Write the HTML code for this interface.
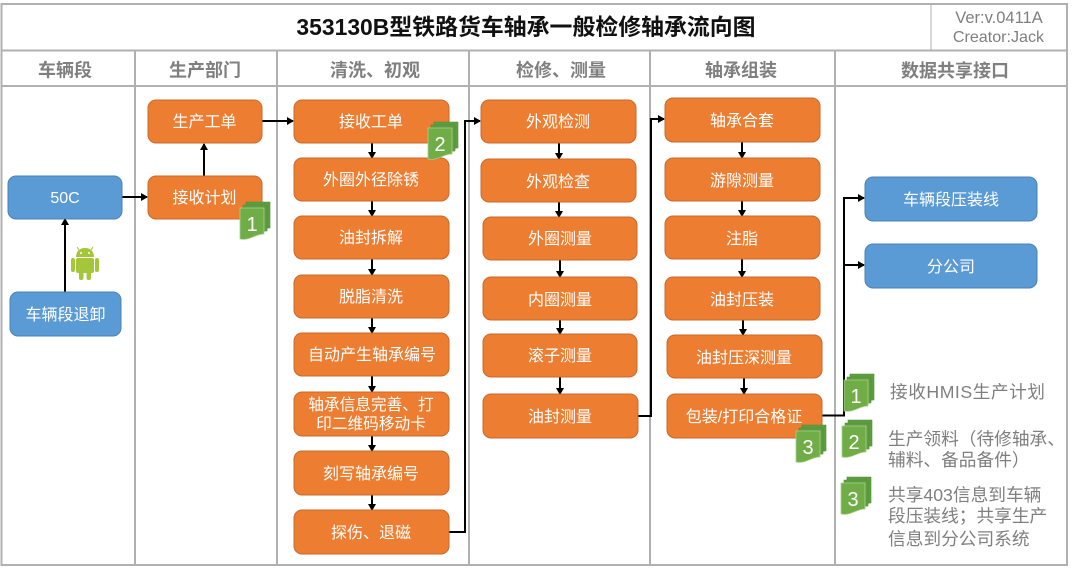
<!DOCTYPE html>
<html lang="zh"><head><meta charset="utf-8"><title>353130B型铁路货车轴承一般检修轴承流向图</title>
<style>
html,body{margin:0;padding:0;background:#fff;width:1080px;height:568px;overflow:hidden}
svg{display:block}
text{font-family:"Liberation Sans","Noto Sans CJK SC",sans-serif}
.h{font-size:18px;font-weight:700;fill:#7f7f7f;text-anchor:middle}
.b{font-size:16px;fill:#fff;text-anchor:middle;dominant-baseline:central;transform:translateY(1.5px)}
.o{fill:#ed7d31;stroke:#c9692c;stroke-width:1}
.u{fill:#5b9bd5;stroke:#4a82b5;stroke-width:1}
.l{fill:none;stroke:#000;stroke-width:2}
.g{font-size:17.7px;fill:#7f7f7f}
.n{font-size:20px;fill:#fff;text-anchor:middle}
.d1{fill:#5f9e40;stroke:#4f8a35;stroke-width:.6}
.d2{fill:#70ad47;stroke:#a9d18e;stroke-width:.8}
</style></head><body>
<svg width="1080" height="568" viewBox="0 0 1080 568" xmlns="http://www.w3.org/2000/svg">
<defs>
<path id="p" d="M0 0H24V26C15 26 10 33 0 31Z"/>
<marker id="a" markerWidth="7" markerHeight="8" refX="6" refY="4" orient="auto" markerUnits="userSpaceOnUse"><path d="M0 0L7 4L0 8Z" fill="#000"/></marker>
<g id="doc">
<use href="#p" x="6" y="-6" class="d1"/><use href="#p" x="3" y="-3" class="d1"/><use href="#p" x="0" y="0" class="d2" style="fill:#70ad47"/>
</g>
</defs>
<g fill="none" stroke="#b0b0b0" stroke-width="2">
<rect x="1.500" y="4" width="1065.500" height="561"/>
<path d="M1 50.500H1067M1 86H1067M135 50V565M277 50V565M469 50V565M650 50V565M835 50V565"/>
<path d="M931 4V50" stroke-width="1"/>
</g>
<text x="526" y="35" text-anchor="middle" font-size="22.900" font-weight="700" fill="#111">353130B型铁路货车轴承一般检修轴承流向图</text>
<text x="999" y="23" text-anchor="middle" font-size="16.500" fill="#7f7f7f">Ver:v.0411A</text>
<text x="998.500" y="42" text-anchor="middle" font-size="16.100" fill="#7f7f7f">Creator:Jack</text>
<text class="h" x="65" y="76.500">车辆段</text><text class="h" x="205" y="76.500">生产部门</text><text class="h" x="375" y="76.500">清洗、初观</text><text class="h" x="561" y="76.500">检修、测量</text><text class="h" x="741" y="76.500">轴承组装</text><text class="h" x="955" y="77">数据共享接口</text>

<g>
<path class="l" d="M122 197H147" marker-end="url(#a)"/>
<path class="l" d="M65 292V219" marker-end="url(#a)"/>
<path class="l" d="M204 176V144" marker-end="url(#a)"/>
<path class="l" d="M262 121H293" marker-end="url(#a)"/>
<path class="l" d="M372 143V158" marker-end="url(#a)"/>
<path class="l" d="M372 201V216" marker-end="url(#a)"/>
<path class="l" d="M372 259V275" marker-end="url(#a)"/>
<path class="l" d="M372 318V333" marker-end="url(#a)"/>
<path class="l" d="M372 376V392" marker-end="url(#a)"/>
<path class="l" d="M372 436V451" marker-end="url(#a)"/>
<path class="l" d="M372 495V510" marker-end="url(#a)"/>
<path class="l" d="M449 532H465V121H480" marker-end="url(#a)"/>
<path class="l" d="M559 143V159" marker-end="url(#a)"/>
<path class="l" d="M559 202V217" marker-end="url(#a)"/>
<path class="l" d="M560 260V277" marker-end="url(#a)"/>
<path class="l" d="M560 320V334" marker-end="url(#a)"/>
<path class="l" d="M560 377V394" marker-end="url(#a)"/>
<path class="l" d="M638 416H651V119H664" marker-end="url(#a)"/>
<path class="l" d="M742 142V158" marker-end="url(#a)"/>
<path class="l" d="M742 201V216" marker-end="url(#a)"/>
<path class="l" d="M742 259V277" marker-end="url(#a)"/>
<path class="l" d="M743 320V335" marker-end="url(#a)"/>
<path class="l" d="M744 378V394" marker-end="url(#a)"/>
<path class="l" d="M822 415.500H844V198H864" marker-end="url(#a)"/>
<path class="l" d="M844 265H864" marker-end="url(#a)"/>
</g>

<g>
<rect class="u" x="8" y="176" width="114" height="43" rx="8"/><text class="b" x="65" y="197">50C</text>
<rect class="u" x="10" y="292" width="111" height="44" rx="8"/><text class="b" x="65.500" y="314">车辆段退卸</text>
<rect class="o" x="148" y="100" width="114" height="43" rx="8"/><text class="b" x="204.500" y="121">生产工单</text>
<rect class="o" x="148" y="176" width="114" height="43" rx="8"/><text class="b" x="204.500" y="197">接收计划</text>

<rect class="o" x="294" y="100" width="155" height="43" rx="8"/><text class="b" x="371" y="121">接收工单</text>
<rect class="o" x="294" y="158" width="155" height="43" rx="8"/><text class="b" x="371" y="179">外圈外径除锈</text>
<rect class="o" x="294" y="216" width="155" height="43" rx="8"/><text class="b" x="371" y="237">油封拆解</text>
<rect class="o" x="294" y="275" width="155" height="43" rx="8"/><text class="b" x="371" y="296">脱脂清洗</text>
<rect class="o" x="294" y="333" width="155" height="43" rx="8"/><text class="b" x="372" y="354">自动产生轴承编号</text>
<rect class="o" x="294" y="392" width="155" height="44" rx="8"/><text class="b" x="371" y="404" style="font-size:15.700px">轴承信息完善、打</text><text class="b" x="371" y="423" style="font-size:15.700px">印二维码移动卡</text>
<rect class="o" x="294" y="451" width="155" height="44" rx="8"/><text class="b" x="371" y="473">刻写轴承编号</text>
<rect class="o" x="294" y="510" width="155" height="44" rx="8"/><text class="b" x="371" y="532">探伤、退磁</text>

<rect class="o" x="481" y="100" width="155" height="43" rx="8"/><text class="b" x="558" y="121">外观检测</text>
<rect class="o" x="481" y="159" width="155" height="43" rx="8"/><text class="b" x="558" y="181">外观检查</text>
<rect class="o" x="483" y="217" width="154" height="43" rx="8"/><text class="b" x="560" y="238">外圈测量</text>
<rect class="o" x="483" y="277" width="154" height="43" rx="8"/><text class="b" x="560" y="299">内圈测量</text>
<rect class="o" x="483" y="334" width="154" height="43" rx="8"/><text class="b" x="560" y="355">滚子测量</text>
<rect class="o" x="483" y="394" width="155" height="44" rx="8"/><text class="b" x="560" y="416">油封测量</text>

<rect class="o" x="665" y="98" width="155" height="44" rx="8"/><text class="b" x="742" y="120">轴承合套</text>
<rect class="o" x="665" y="158" width="155" height="43" rx="8"/><text class="b" x="742" y="180">游隙测量</text>
<rect class="o" x="665" y="216" width="155" height="43" rx="8"/><text class="b" x="742" y="238">注脂</text>
<rect class="o" x="665" y="277" width="155" height="43" rx="8"/><text class="b" x="742" y="299">油封压装</text>
<rect class="o" x="667" y="335" width="155" height="43" rx="8"/><text class="b" x="744" y="357">油封压深测量</text>
<rect class="o" x="667" y="394" width="155" height="44" rx="8"/><text class="b" x="744" y="416">包装/打印合格证</text>

<rect class="u" x="865" y="177" width="172" height="44" rx="8"/><text class="b" x="951" y="199">车辆段压装线</text>
<rect class="u" x="865" y="244" width="172" height="44" rx="8"/><text class="b" x="951" y="266">分公司</text>
</g>

<g transform="translate(71 247)">
<g fill="#a4c639">
<path d="M5 10C5 4 9 1 14 1S23 4 23 10Z"/>
<rect x="5" y="11" width="18" height="15" rx="2"/>
<rect x="0" y="11" width="4" height="14" rx="2"/><rect x="24" y="11" width="4" height="14" rx="2"/>
<rect x="8" y="24" width="4.500" height="9" rx="2"/><rect x="15.500" y="24" width="4.500" height="9" rx="2"/>
<path d="M8 3L6 0M20 3L22 0" stroke="#a4c639" stroke-width="1"/>
</g>
<circle cx="10" cy="6" r="1" fill="#fff"/><circle cx="18" cy="6" r="1" fill="#fff"/>
</g>

<use href="#doc" x="240" y="208"/><text class="n" x="252" y="231">1</text>
<use href="#doc" x="428" y="128"/><text class="n" x="440" y="151">2</text>
<use href="#doc" x="796" y="431"/><text class="n" x="808" y="454">3</text>
<use href="#doc" x="844" y="380"/><text class="n" x="856" y="403">1</text>
<use href="#doc" x="842" y="426"/><text class="n" x="854" y="449">2</text>
<use href="#doc" x="841" y="483"/><text class="n" x="853" y="506">3</text>

<text class="g" x="890" y="398" textLength="155" lengthAdjust="spacing">接收HMIS生产计划</text>
<text class="g" x="888" y="445">生产领料（待修轴承、</text>
<text class="g" x="888" y="466">辅料、备品备件）</text>
<text class="g" x="888" y="501">共享403信息到车辆</text>
<text class="g" x="888" y="522">段压装线；共享生产</text>
<text class="g" x="888" y="545">信息到分公司系统</text>
</svg>
</body></html>
